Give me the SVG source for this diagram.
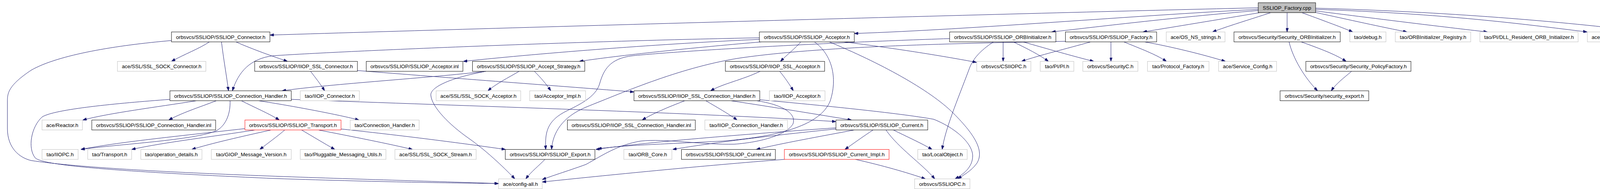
<svg xmlns="http://www.w3.org/2000/svg" width="4385" height="485" viewBox="0 0 4385 485">
<style>
.b{fill:#fff;stroke:#000;stroke-width:1}
.g{fill:#fff;stroke:#bfbfbf;stroke-width:1}
.r{fill:#fff;stroke:#f00;stroke-width:1}
.t{fill:#bfbfbf;stroke:#000;stroke-width:1}
text{font-family:"Liberation Sans",Arial,Helvetica,sans-serif;font-size:13.33px;text-anchor:middle;fill:#000}
#edges path{fill:none;stroke:#191970;stroke-width:1;marker-end:url(#a)}
</style>
<defs>
<marker id="a" markerWidth="10" markerHeight="7" refX="10" refY="3.5" orient="auto" markerUnits="userSpaceOnUse">
<path d="M0,0 L10,3.5 L0,7 z" fill="#191970" stroke="#191970" stroke-width="1"/>
</marker>
</defs>
<rect x="0" y="0" width="4385" height="485" fill="#fff"/>
<g id="edges">
<path d="M3221,20 C2700,32 1400,68 691,90"/>
<path d="M3221,24 C2900,40 2500,75 2187,86"/>
<path d="M3221,27 C3000,45 2800,70 2692,82"/>
<path d="M3225,32.5 C3120,50 3000,70 2926,82"/>
<path d="M3253,32.5 C3200,50 3140,68 3104,82"/>
<path d="M3295,32.5 L3295,82"/>
<path d="M3333,32.5 C3380,50 3430,68 3463,82"/>
<path d="M3368,32 C3450,50 3540,70 3602,82"/>
<path d="M3368,28 C3500,45 3700,70 3808,82"/>
<path d="M3368,24 C3700,35 3900,62 4063,82"/>
<path d="M3368,21 C3700,30 4000,55 4215,82"/>
<path d="M439,104 C300,116 150,140 80,180 C20,220 19,240 19,260 L19,330 C19,380 50,405 80,412 C300,445 900,458 1276,471"/>
<path d="M536,107.5 C510,125 470,140 439,157.5"/>
<path d="M567,107.5 C572,150 580,195 585,233"/>
<path d="M604,107.5 C650,128 700,145 736,157.5"/>
<path d="M1944,97 C1500,105 900,130 700,143 C640,150 610,185 595,233"/>
<path d="M1944,101 C1700,112 1400,135 1186,157.5"/>
<path d="M1950,107.5 C1800,120 1600,140 1483,157.5"/>
<path d="M2050,107.5 C2035,125 2015,140 1998,157.5"/>
<path d="M2085,107.5 C2130,140 2145,200 2125,260 C2100,320 2000,350 1850,362 C1700,370 1600,372 1530,382"/>
<path d="M2160,107.5 C2300,125 2420,145 2500,160"/>
<path d="M2123,107.5 C2250,160 2380,230 2440,290 C2500,350 2520,390 2500,420 C2485,440 2465,450 2452,459"/>
<path d="M2431,99 C2100,110 1750,130 1620,143 C1560,150 1545,180 1535,215 C1525,250 1480,270 1450,285 C1400,310 1395,340 1397,383.5"/>
<path d="M2543,107.5 C2510,130 2490,150 2480,180 C2450,260 2420,330 2412,383.5"/>
<path d="M2568,107.5 L2568,157.5"/>
<path d="M2594,107.5 C2630,125 2660,140 2684,157.5"/>
<path d="M2619,107.5 C2680,125 2750,145 2800,157.5"/>
<path d="M2727,106 C2400,112 2100,120 1900,148 C1750,170 1600,235 1500,275 C1440,300 1415,340 1412,383.5"/>
<path d="M2792,107.5 C2730,125 2660,142 2615,157.5"/>
<path d="M2844,107.5 L2844,157.5"/>
<path d="M2877,107.5 C2920,125 2960,140 2986,157.5"/>
<path d="M2930,107.5 C3000,120 3080,140 3137,157.5"/>
<path d="M3300,107.5 C3310,150 3340,200 3373,233"/>
<path d="M3331,107.5 C3380,125 3420,140 3446,157.5"/>
<path d="M3460,183 C3440,200 3420,215 3408,233"/>
<path d="M795,183 C808,200 820,215 831,233"/>
<path d="M915,181 C1150,200 1450,222 1623,236"/>
<path d="M1244,183 C1100,200 850,215 722,233"/>
<path d="M1244,183 C1150,200 1100,225 1103,245 C1106,275 1150,320 1200,355 C1250,390 1300,440 1318,459"/>
<path d="M1329,183 C1300,200 1270,215 1249,233"/>
<path d="M1368,183 C1385,200 1398,215 1410,233"/>
<path d="M1946,183 C1900,205 1850,215 1819,233"/>
<path d="M1996,183 C2010,200 2020,215 2031,233"/>
<path d="M435,255 C300,265 140,280 108,300 C80,325 70,380 90,405 C110,425 300,440 700,458 C1000,468 1200,470 1276,471"/>
<path d="M503,258.5 C400,275 280,290 212,308"/>
<path d="M554,258.5 C510,275 460,292 432,308"/>
<path d="M589,258.5 C590,290 580,320 555,335 C500,360 300,370 207,383.5"/>
<path d="M618,258.5 C650,275 690,292 715,308"/>
<path d="M662,258.5 C750,272 870,295 919,308"/>
<path d="M745,255 C1200,272 1800,290 2140,312"/>
<path d="M627,330 C450,350 300,365 207,383.5"/>
<path d="M653,333.5 C550,350 420,365 337,383.5"/>
<path d="M694,333.5 C620,350 540,368 491,383.5"/>
<path d="M729,333.5 C710,350 685,368 665,383.5"/>
<path d="M772,333.5 C800,350 830,368 857,383.5"/>
<path d="M815,333.5 C900,350 1000,370 1056,383.5"/>
<path d="M873,331 C1050,350 1200,370 1294,383.5"/>
<path d="M1753,258.5 C1710,275 1670,292 1644,308"/>
<path d="M1807,258.5 C1835,275 1865,292 1887,308"/>
<path d="M1871,258.5 C1980,275 2100,295 2180,308"/>
<path d="M1945,256 C2100,270 2300,290 2390,306 C2450,330 2490,370 2490,400 C2490,430 2465,448 2445,459"/>
<path d="M1937,258.5 C2000,268 2040,290 2030,318 C2015,345 1950,365 1880,370 C1800,372 1700,355 1640,362 C1580,372 1540,400 1500,422 C1450,440 1410,452 1388,461"/>
<path d="M2140,328 C1900,345 1650,365 1525,383.5"/>
<path d="M2140,331 C1950,350 1800,370 1722,383.5"/>
<path d="M2187,333.5 C2100,350 2000,368 1936,383.5"/>
<path d="M2235,333.5 C2210,350 2185,368 2163,383.5"/>
<path d="M2268,333.5 C2300,380 2360,420 2393,459"/>
<path d="M2287,333.5 C2320,350 2360,368 2386,383.5"/>
<path d="M2008,409 C1800,425 1550,450 1388,467"/>
<path d="M2190,409 C2260,425 2320,442 2369,459"/>
<path d="M1395,409 C1380,425 1360,440 1346,459"/>
</g>
<g id="n_factory_cpp"><rect class="t" x="3221" y="7" width="147" height="25.5"/><text x="3294.5" y="24.5">SSLIOP_Factory.cpp</text></g>
<g id="n_connector"><rect class="b" x="439" y="82" width="252" height="25.5"/><text x="565" y="99.5">orbsvcs/SSLIOP/SSLIOP_Connector.h</text></g>
<g id="n_acceptor"><rect class="b" x="1944" y="82" width="243" height="25.5"/><text x="2065.5" y="99.5">orbsvcs/SSLIOP/SSLIOP_Acceptor.h</text></g>
<g id="n_orbinit"><rect class="b" x="2431" y="82" width="272" height="25.5"/><text x="2567" y="99.5">orbsvcs/SSLIOP/SSLIOP_ORBInitializer.h</text></g>
<g id="n_factory_h"><rect class="b" x="2727.5" y="82" width="233.5" height="25.5"/><text x="2844.25" y="99.5">orbsvcs/SSLIOP/SSLIOP_Factory.h</text></g>
<g id="n_os_ns_strings"><rect class="g" x="2985.6" y="82" width="150.4" height="25.5"/><text x="3060.8" y="99.5">ace/OS_NS_strings.h</text></g>
<g id="n_sec_orbinit"><rect class="b" x="3159" y="82" width="272" height="25.5"/><text x="3295" y="99.5">orbsvcs/Security/Security_ORBInitializer.h</text></g>
<g id="n_debug"><rect class="g" x="3455.6" y="82" width="92.4" height="25.5"/><text x="3501.8" y="99.5">tao/debug.h</text></g>
<g id="n_orbinit_registry"><rect class="g" x="3572" y="82" width="193" height="25.5"/><text x="3668.5" y="99.5">tao/ORBInitializer_Registry.h</text></g>
<g id="n_dll_resident"><rect class="g" x="3788.5" y="82" width="251.5" height="25.5"/><text x="3914.25" y="99.5">tao/PI/DLL_Resident_ORB_Initializer.h</text></g>
<g id="n_sslconf"><rect class="g" x="4063.6" y="82" width="128.4" height="25.5"/><text x="4127.8" y="99.5">ace/SSL/sslconf.h</text></g>
<g id="n_ssl_context"><rect class="g" x="4215.5" y="82" width="165.5" height="25.5"/><text x="4298.25" y="99.5">ace/SSL/SSL_Context.h</text></g>
<g id="n_ssl_sock_connector"><rect class="g" x="300.6" y="157.5" width="226.4" height="25.5"/><text x="413.8" y="175">ace/SSL/SSL_SOCK_Connector.h</text></g>
<g id="n_iiop_ssl_connector"><rect class="b" x="652" y="157.5" width="263" height="25.5"/><text x="783.5" y="175">orbsvcs/SSLIOP/IIOP_SSL_Connector.h</text></g>
<g id="n_acceptor_inl"><rect class="b" x="937.6" y="157.5" width="247.4" height="25.5"/><text x="1061.3" y="175">orbsvcs/SSLIOP/SSLIOP_Acceptor.inl</text></g>
<g id="n_accept_strategy"><rect class="b" x="1209.5" y="157.5" width="287.5" height="25.5"/><text x="1353.25" y="175">orbsvcs/SSLIOP/SSLIOP_Accept_Strategy.h</text></g>
<g id="n_iiop_ssl_acceptor"><rect class="b" x="1857" y="157.5" width="254" height="25.5"/><text x="1984" y="175">orbsvcs/SSLIOP/IIOP_SSL_Acceptor.h</text></g>
<g id="n_csiiopc"><rect class="g" x="2500.5" y="157.5" width="138.5" height="25.5"/><text x="2569.75" y="175">orbsvcs/CSIIOPC.h</text></g>
<g id="n_pi"><rect class="g" x="2663" y="157.5" width="86" height="25.5"/><text x="2706" y="175">tao/PI/PI.h</text></g>
<g id="n_securityc"><rect class="g" x="2772" y="157.5" width="141" height="25.5"/><text x="2842.5" y="175">orbsvcs/SecurityC.h</text></g>
<g id="n_protocol_factory"><rect class="g" x="2937.5" y="157.5" width="157.5" height="25.5"/><text x="3016.25" y="175">tao/Protocol_Factory.h</text></g>
<g id="n_service_config"><rect class="g" x="3119.6" y="157.5" width="148.4" height="25.5"/><text x="3193.8" y="175">ace/Service_Config.h</text></g>
<g id="n_policy_factory"><rect class="b" x="3343" y="157.5" width="269" height="25.5"/><text x="3477.5" y="175">orbsvcs/Security/Security_PolicyFactory.h</text></g>
<g id="n_connection_handler"><rect class="b" x="435" y="233" width="310.6" height="25.5"/><text x="590.3" y="250.5">orbsvcs/SSLIOP/SSLIOP_Connection_Handler.h</text></g>
<g id="n_iiop_connector"><rect class="g" x="768.7" y="233" width="151.3" height="25.5"/><text x="844.35" y="250.5">tao/IIOP_Connector.h</text></g>
<g id="n_ssl_sock_acceptor"><rect class="g" x="1116.5" y="233" width="216.5" height="25.5"/><text x="1224.75" y="250.5">ace/SSL/SSL_SOCK_Acceptor.h</text></g>
<g id="n_acceptor_impl"><rect class="g" x="1356" y="233" width="143" height="25.5"/><text x="1427.5" y="250.5">tao/Acceptor_Impl.h</text></g>
<g id="n_iiop_ssl_ch"><rect class="b" x="1623" y="233" width="322" height="25.5"/><text x="1784" y="250.5">orbsvcs/SSLIOP/IIOP_SSL_Connection_Handler.h</text></g>
<g id="n_iiop_acceptor"><rect class="g" x="1969.7" y="233" width="142.3" height="25.5"/><text x="2040.85" y="250.5">tao/IIOP_Acceptor.h</text></g>
<g id="n_security_export"><rect class="b" x="3277" y="233" width="227" height="25.5"/><text x="3390.5" y="250.5">orbsvcs/Security/security_export.h</text></g>
<g id="n_reactor"><rect class="g" x="107.6" y="308" width="103.4" height="25.5"/><text x="159.3" y="325.5">ace/Reactor.h</text></g>
<g id="n_ch_inl"><rect class="b" x="235" y="308" width="317" height="25.5"/><text x="393.5" y="325.5">orbsvcs/SSLIOP/SSLIOP_Connection_Handler.inl</text></g>
<g id="n_transport"><rect class="r" x="627" y="308" width="246" height="25.5"/><text x="750" y="325.5">orbsvcs/SSLIOP/SSLIOP_Transport.h</text></g>
<g id="n_tao_connection_handler"><rect class="g" x="896.6" y="308" width="176.4" height="25.5"/><text x="984.8" y="325.5">tao/Connection_Handler.h</text></g>
<g id="n_iiop_ssl_ch_inl"><rect class="b" x="1452.5" y="308" width="327.5" height="25.5"/><text x="1616.25" y="325.5">orbsvcs/SSLIOP/IIOP_SSL_Connection_Handler.inl</text></g>
<g id="n_iiop_connection_handler"><rect class="g" x="1804.5" y="308" width="211.5" height="25.5"/><text x="1910.25" y="325.5">tao/IIOP_Connection_Handler.h</text></g>
<g id="n_current"><rect class="b" x="2140" y="308" width="235" height="25.5"/><text x="2257.5" y="325.5">orbsvcs/SSLIOP/SSLIOP_Current.h</text></g>
<g id="n_iiopc"><rect class="g" x="107.6" y="383.5" width="92.4" height="25.5"/><text x="153.8" y="401">tao/IIOPC.h</text></g>
<g id="n_tao_transport"><rect class="g" x="224.6" y="383.5" width="112.4" height="25.5"/><text x="280.8" y="401">tao/Transport.h</text></g>
<g id="n_operation_details"><rect class="g" x="360.5" y="383.5" width="156.5" height="25.5"/><text x="438.75" y="401">tao/operation_details.h</text></g>
<g id="n_giop_message_version"><rect class="g" x="541" y="383.5" width="204.6" height="25.5"/><text x="643.3" y="401">tao/GIOP_Message_Version.h</text></g>
<g id="n_pluggable_messaging_utils"><rect class="g" x="768.7" y="383.5" width="219.3" height="25.5"/><text x="878.35" y="401">tao/Pluggable_Messaging_Utils.h</text></g>
<g id="n_ssl_sock_stream"><rect class="g" x="1011" y="383.5" width="208" height="25.5"/><text x="1115" y="401">ace/SSL/SSL_SOCK_Stream.h</text></g>
<g id="n_export"><rect class="b" x="1293.5" y="383.5" width="229.5" height="25.5"/><text x="1408.25" y="401">orbsvcs/SSLIOP/SSLIOP_Export.h</text></g>
<g id="n_orb_core"><rect class="g" x="1597" y="383.5" width="123" height="25.5"/><text x="1658.5" y="401">tao/ORB_Core.h</text></g>
<g id="n_current_inl"><rect class="b" x="1744.6" y="383.5" width="240.4" height="25.5"/><text x="1864.8" y="401">orbsvcs/SSLIOP/SSLIOP_Current.inl</text></g>
<g id="n_current_impl"><rect class="r" x="2008" y="383.5" width="268" height="25.5"/><text x="2142" y="401">orbsvcs/SSLIOP/SSLIOP_Current_Impl.h</text></g>
<g id="n_localobject"><rect class="g" x="2349.5" y="383.5" width="126.5" height="25.5"/><text x="2412.75" y="401">tao/LocalObject.h</text></g>
<g id="n_config_all"><rect class="g" x="1276.5" y="459" width="111.5" height="25.5"/><text x="1332.25" y="476.5">ace/config-all.h</text></g>
<g id="n_sslIOPC"><rect class="g" x="2341.5" y="459" width="141.5" height="25.5"/><text x="2412.25" y="476.5">orbsvcs/SSLIOPC.h</text></g>
</svg>
